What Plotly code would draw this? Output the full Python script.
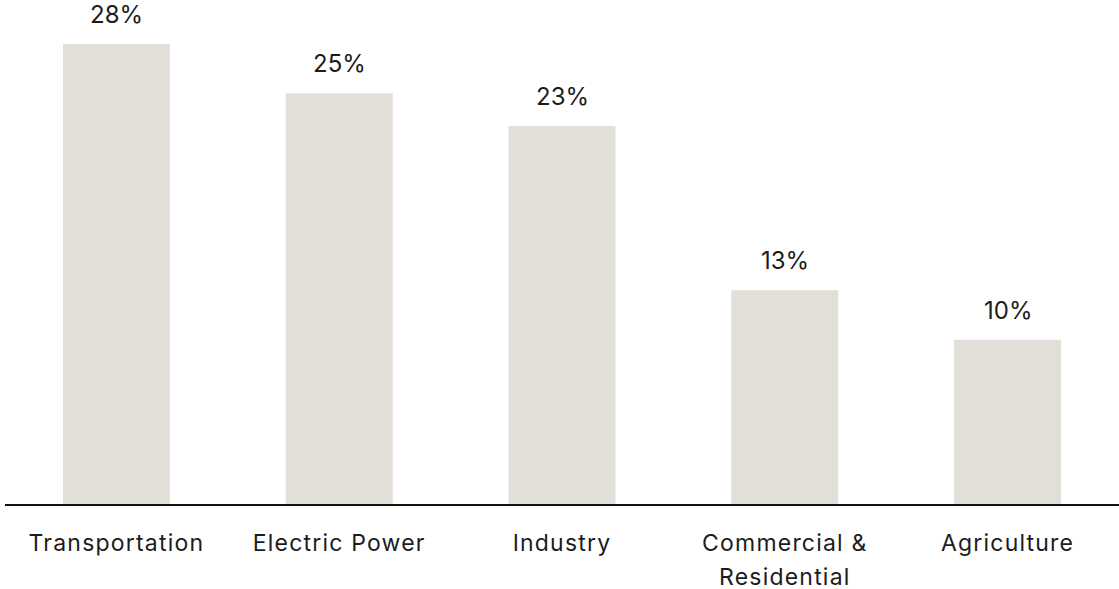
import plotly.graph_objects as go

# Share of emissions by economic sector (%)
sectors = ["Transportation", "Electric Power", "Industry",
           "Commercial & Residential", "Agriculture"]
tick_labels = ["Transportation", "Electric Power", "Industry",
               "Commercial &<br>Residential", "Agriculture"]
shares = [28, 25, 23, 13, 10]

BAR_COLOR = "#E2DED8"
TEXT_COLOR = "#1c1c1c"
FONT = "Inter, 'Liberation Sans', Arial, sans-serif"


def tracked(label, spacing="1.2px"):
    # letter-spacing on every line; wrapped lines get a little extra leading
    parts = label.split("<br>")
    out = [f"<span style='letter-spacing:{spacing}'>{parts[0]}</span>"]
    for part in parts[1:]:
        out.append(
            f"<span style='letter-spacing:{spacing};baseline-shift:-4px'>{part}</span>"
        )
    return "<br>".join(out)


fig = go.Figure(
    go.Bar(
        x=sectors,
        y=shares,
        marker=dict(color=BAR_COLOR, line=dict(width=0)),
        hoverinfo="skip",
    )
)

# value labels above each bar
for s, v in zip(sectors, shares):
    fig.add_annotation(
        x=s, y=v, xref="x", yref="y",
        text=f"{v}%", showarrow=False,
        yanchor="bottom", yshift=13,
        font=dict(family=FONT, size=24, color=TEXT_COLOR),
    )

fig.update_layout(
    width=1119, height=589,
    margin=dict(l=5, r=0, t=0, b=85, autoexpand=False),
    paper_bgcolor="white", plot_bgcolor="white",
    bargap=0.52,
    showlegend=False,
    font=dict(family=FONT, color=TEXT_COLOR),
    xaxis=dict(
        showline=True, linecolor="#111111", linewidth=2,
        showgrid=False, zeroline=False, ticks="",
        tickmode="array", tickvals=sectors,
        ticktext=[tracked(t) for t in tick_labels],
        tickfont=dict(family=FONT, size=23, color=TEXT_COLOR),
        ticklabelstandoff=17,
        automargin=False,
        fixedrange=True,
    ),
    yaxis=dict(
        range=[0, 30.67], visible=False, showgrid=False,
        zeroline=False, fixedrange=True, automargin=False,
    ),
)

fig.write_html("out.html", config={"displayModeBar": False})
